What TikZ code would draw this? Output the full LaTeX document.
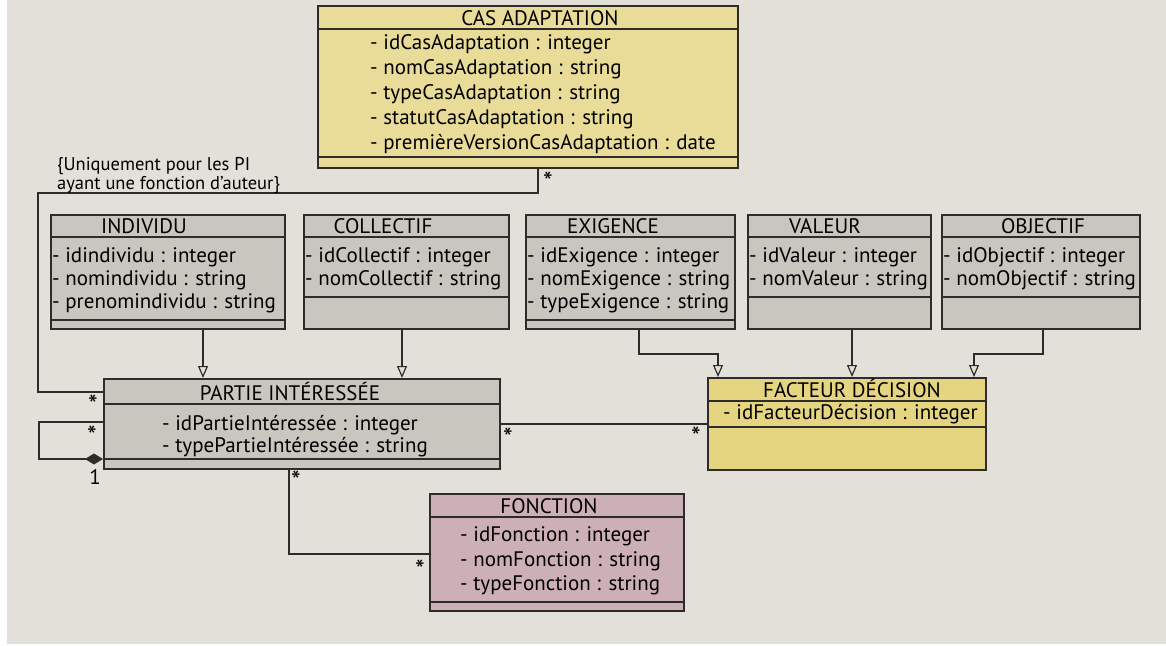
\documentclass[tikz,border=0pt]{standalone}
\usepackage{fontspec}
\setmainfont{PT Sans}
\usetikzlibrary{arrows.meta}

\definecolor{fond}{HTML}{E3DFD9}
\definecolor{gris}{HTML}{C9C5BF}
\definecolor{jauneclair}{HTML}{E8DC98}
\definecolor{jaune}{HTML}{E5D581}
\definecolor{rose}{HTML}{CDB0B6}
\definecolor{trait}{HTML}{2E2C2A}

% boite de classe : nom, x, y, largeur, hauteur, couleur, separateurs
\newcommand{\boite}[8]{%
  \node[classe, fill=#6, minimum width=#4pt, minimum height=#5pt] (#1) at (#2,#3) {};
  \draw[separ] ([yshift=-#7pt]#1.north west) -- ([yshift=-#7pt]#1.north east);
  \draw[separ] ([yshift=-#8pt]#1.north west) -- ([yshift=-#8pt]#1.north east);
}

\begin{document}
\begin{tikzpicture}[x=1pt, y=-1pt]
  \tikzstyle{classe}=[draw=trait, line width=1.6pt, inner sep=0pt, anchor=north west]
  \tikzstyle{separ}=[draw=trait, line width=1.3pt]
  \tikzstyle{texte}=[inner sep=0pt, text height=15pt, text depth=4pt, font=\fontsize{21}{23}\selectfont]
  \tikzstyle{titre}=[texte, anchor=base]
  \tikzstyle{attr}=[texte, anchor=west]
  \tikzstyle{lien}=[draw=trait, line width=1.2pt]
  \tikzstyle{herit}=[lien, -{Triangle[open, width=10pt, length=12pt]}]
  \tikzstyle{mult}=[inner sep=0pt, font=\fontsize{21}{23}\selectfont]
  \tikzstyle{remarque}=[inner sep=0pt, align=left, font=\fontsize{18.5}{18.5}\selectfont]

  \useasboundingbox (0,0) rectangle (1166,645);
  \fill[fond] (7,0) rectangle (1166,644);

  % classes
  \boite{cas}{317}{5}{420}{162}{jauneclair}{24}{152}
  \boite{indiv}{50}{214}{234}{114}{gris}{23}{106}
  \boite{coll}{303}{214}{205}{114}{gris}{23}{83}
  \boite{exig}{525}{214}{209}{114}{gris}{23}{106}
  \boite{val}{747}{214}{183}{114}{gris}{23}{83}
  \boite{obj}{941}{214}{198}{114}{gris}{23}{83}
  \boite{pi}{103}{378}{396}{90}{gris}{26}{81}
  \boite{fd}{707}{377}{278}{92}{jaune}{24}{50}
  \boite{fct}{429}{493}{254}{117}{rose}{24}{109}

  % titres
  \path (540,25) node[titre] (cas-t) {CAS ADAPTATION};
  \path (144,233) node[titre] (indiv-t) {INDIVIDU};
  \path (383,233) node[titre] (coll-t) {COLLECTIF};
  \path (613,233) node[titre] (exig-t) {EXIGENCE};
  \path (825,233) node[titre] (val-t) {VALEUR};
  \path (1043,233) node[titre] (obj-t) {OBJECTIF};
  \path (290,400) node[titre] (pi-t) {PARTIE INTÉRESSÉE};
  \path (852,397) node[titre] (fd-t) {FACTEUR DÉCISION};
  \path (549,513) node[titre] (fct-t) {FONCTION};

  % attributs
  \foreach \t [count=\i from 0] in {- idCasAdaptation : integer, - nomCasAdaptation : string,
      - typeCasAdaptation : string, - statutCasAdaptation : string,
      - premièreVersionCasAdaptation : date}
  {
    \path (370,44+25*\i) node[attr] (cas-a\i) {\t};
  }
  \foreach \t [count=\i from 0] in {- idindividu : integer, - nomindividu : string,
      - prenomindividu : string}
  {
    \path (52,257+23*\i) node[attr] (indiv-a\i) {\t};
  }
  \foreach \t [count=\i from 0] in {- idCollectif : integer, - nomCollectif : string}
  {
    \path (305,257+23*\i) node[attr] (coll-a\i) {\t};
  }
  \foreach \t [count=\i from 0] in {- idExigence : integer, - nomExigence : string,
      - typeExigence : string}
  {
    \path (527,257+23*\i) node[attr] (exig-a\i) {\t};
  }
  \foreach \t [count=\i from 0] in {- idValeur : integer, - nomValeur : string}
  {
    \path (749,257+23*\i) node[attr] (val-a\i) {\t};
  }
  \foreach \t [count=\i from 0] in {- idObjectif : integer, - nomObjectif : string}
  {
    \path (943,257+23*\i) node[attr] (obj-a\i) {\t};
  }
  \foreach \t [count=\i from 0] in {- idPartieIntéressée : integer, - typePartieIntéressée : string}
  {
    \path (162,425+22*\i) node[attr] (pi-a\i) {\t};
  }
  \path (723,414) node[attr] (fd-a0) {- idFacteurDécision : integer};
  \foreach \t [count=\i from 0] in {- idFonction : integer, - nomFonction : string,
      - typeFonction : string}
  {
    \path (460,536+24.5*\i) node[attr] (fct-a\i) {\t};
  }

  % heritage
  \draw[herit] (indiv.south -| 203,0) -- (pi.north -| 203,0);
  \draw[herit] (coll.south -| 402,0) -- (pi.north -| 402,0);
  \draw[herit] (exig.south -| 639,0) -- (639,354) -| (fd.north -| 718,0);
  \draw[herit] (val.south -| 852,0) -- (fd.north -| 852,0);
  \draw[herit] (obj.south -| 1043,0) -- (1043,354) -| (fd.north -| 974,0);

  % associations
  \draw[lien] (cas.south -| 538,0) |- (38,193) |- (pi.west |- 0,392);
  \draw[lien, -{Diamond[length=18pt, width=11pt]}] (pi.west |- 0,422) -- (39,422) |- (pi.west |- 0,459);
  \draw[lien] (pi.east |- 0,424) -- (fd.west |- 0,424);
  \draw[lien] (pi.south -| 289,0) |- (fct.west |- 0,554);

  % multiplicites
  \path (548,182) node[mult, scale=1.3] (m1) {*};
  \path (93,405) node[mult, scale=1.3] (m2) {*};
  \path (92,436) node[mult, scale=1.3] (m3) {*};
  \path (95,477) node[mult] (m4) {1};
  \path (508,438) node[mult, scale=1.3] (m5) {*};
  \path (696,437) node[mult, scale=1.3] (m6) {*};
  \path (296,481) node[mult, scale=1.3] (m7) {*};
  \path (420,570) node[mult, scale=1.3] (m8) {*};

  \path (57,189) node[remarque, anchor=base west] (rem) {\{Uniquement pour les PI\\ayant une fonction d'auteur\}};
\end{tikzpicture}
\end{document}
